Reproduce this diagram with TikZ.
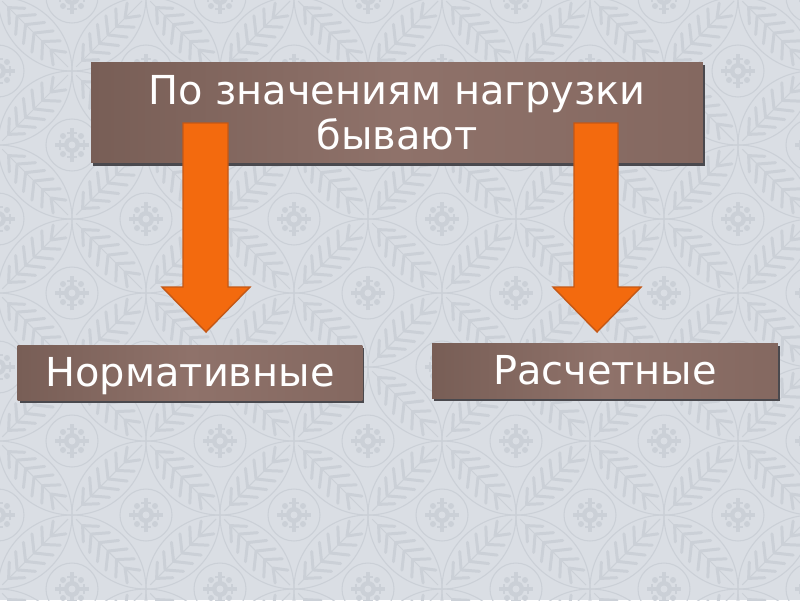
\documentclass[tikz,border=0pt]{standalone}
\usepackage{fontspec}
\setmainfont{DejaVu Sans}
\usetikzlibrary{shadows}
\definecolor{hintergrund}{RGB}{218,222,228}
\definecolor{muster}{RGB}{203,208,215}
\definecolor{braunA}{RGB}{120,94,86}
\definecolor{braunB}{RGB}{143,114,106}
\definecolor{braunC}{RGB}{132,104,96}
\definecolor{schatten}{RGB}{74,73,78}
\definecolor{orangefill}{RGB}{243,106,14}
\definecolor{orangerand}{RGB}{196,88,22}
\tikzset{
	kasten/.style={rectangle, inner sep=0pt, left color=braunA, right color=braunC, middle color=braunB,
		general shadow={fill=schatten, shadow xshift=0.04cm, shadow yshift=-0.06cm},
		text=white, font=\fontsize{22.7pt}{25.5pt}\selectfont},
	pfeil/.style={fill=orangefill, draw=orangerand, line width=0.8pt, line join=miter},
	linie/.style={draw=muster, line width=0.6pt},
	ader/.style={draw=muster, line width=1.7pt, line cap=round}
}
\begin{document}
\begin{tikzpicture}[x=0.02cm, y=0.02cm]
	\useasboundingbox (0,0) rectangle (800,600);
	% Hintergrund
	\fill[hintergrund] (0,0) rectangle (800,600);
	\begin{scope}
		\clip (0,0) rectangle (800,600);
		\foreach \k in {-1,...,11} {
			\foreach \m in {-2,...,8} {
				\pgfmathsetmacro\mx{72+74*\k}
				\pgfmathsetmacro\my{85+74*\m}
				\pgfmathtruncatemacro\art{mod(\k+\m+20,2)}
				\ifnum\art=1
					% Ornament
					\draw[linie] (\mx,\my) circle (74) (\mx,\my) circle (26);
					\begin{scope}[shift={(\mx,\my)}]
						\draw[muster, line width=2.3pt] (-17,0) -- (17,0) (0,-17) -- (0,17);
						\draw[muster, line width=1.2pt] (12,-5) -- (12,5) (-12,-5) -- (-12,5) (-5,12) -- (5,12) (-5,-12) -- (5,-12);
						\fill[muster] (0,0) circle (8) (9,9) circle (3) (-9,9) circle (3) (9,-9) circle (3) (-9,-9) circle (3);
						\fill[hintergrund] (0,0) circle (3.5);
					\end{scope}
				\else
					% Blaetter
					\foreach \w in {45,-45} {
						\begin{scope}[shift={(\mx,\my)}, rotate=\w]
							\draw[linie] (6,0) -- (99,0);
							\foreach \t/\b in {15/11, 27/14, 39/15, 51/15, 63/13, 75/9}
								\draw[ader] (\t,0) -- ++(12,\b) (\t,0) -- ++(12,-\b);
						\end{scope}
					}
				\fi
			}
		}
	\end{scope}
	% Kaesten
	\node[kasten, minimum width=12.24cm, minimum height=2.02cm, align=center] (belastung) at (397,487.5) {По значениям нагрузки\\бывают};
	\node[kasten, minimum width=6.9cm, minimum height=1.1cm, text height=17pt, text depth=0.6pt] (normativ) at (190,227.5) {Нормативные};
	\node[kasten, minimum width=6.92cm, minimum height=1.1cm, text height=17pt, text depth=0.6pt] (rechnung) at (605,229.5) {Расчетные};
	% Pfeile
	\filldraw[pfeil] (183,477) -- (228,477) -- (228,313) -- (250,313) -- (206,268) -- (162,313) -- (183,313) -- cycle;
	\filldraw[pfeil] (574,477) -- (618,477) -- (618,313) -- (641,313) -- (597,268) -- (553,313) -- (574,313) -- cycle;
\end{tikzpicture}
\end{document}
